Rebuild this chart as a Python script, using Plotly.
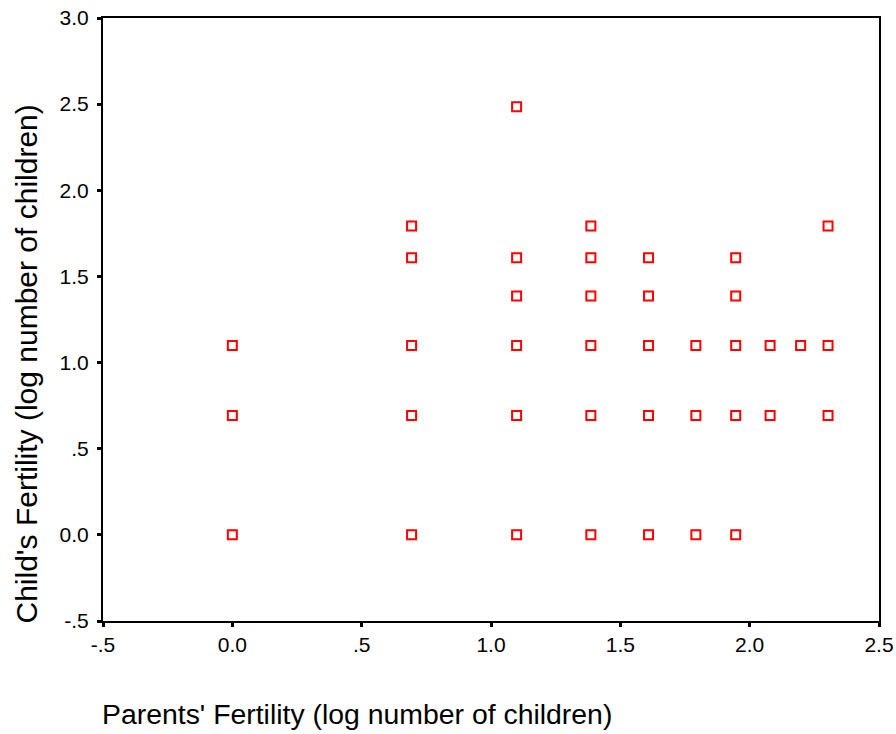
import plotly.graph_objects as go

# Parents' fertility (x, log number of children) and child's fertility (y)
parents_x = [0.0, 0.0, 0.0,
             0.693, 0.693, 0.693, 0.693, 0.693,
             1.099, 1.099, 1.099, 1.099, 1.099, 1.099,
             1.386, 1.386, 1.386, 1.386, 1.386, 1.386,
             1.609, 1.609, 1.609, 1.609, 1.609,
             1.792, 1.792, 1.792,
             1.946, 1.946, 1.946, 1.946, 1.946,
             2.079, 2.079,
             2.197,
             2.303, 2.303, 2.303]
child_y = [0.0, 0.693, 1.099,
           0.0, 0.693, 1.099, 1.609, 1.792,
           0.0, 0.693, 1.099, 1.386, 1.609, 2.485,
           0.0, 0.693, 1.099, 1.386, 1.609, 1.792,
           0.0, 0.693, 1.099, 1.386, 1.609,
           0.0, 0.693, 1.099,
           0.0, 0.693, 1.099, 1.386, 1.609,
           0.693, 1.099,
           1.099,
           0.693, 1.099, 1.792]

x_ticks = [-0.5, 0.0, 0.5, 1.0, 1.5, 2.0, 2.5]
x_ticktext = ["-.5", "0.0", ".5", "1.0", "1.5", "2.0", "2.5"]
y_ticks = [-0.5, 0.0, 0.5, 1.0, 1.5, 2.0, 2.5, 3.0]
y_ticktext = ["-.5", "0.0", ".5", "1.0", "1.5", "2.0", "2.5", "3.0"]

font_family = "Liberation Sans, Arial, sans-serif"

fig = go.Figure()
fig.add_trace(go.Scatter(
    x=parents_x, y=child_y, mode="markers",
    marker=dict(symbol="square-open", size=9, color="#ff0000",
                line=dict(width=2, color="#ff0000")),
    showlegend=False, cliponaxis=False,
))

axis_common = dict(
    showgrid=False, zeroline=False, showline=True, linecolor="black",
    linewidth=2, mirror=True, ticks="outside", ticklen=4, tickwidth=3,
    tickcolor="black", ticklabeloverflow="allow", automargin=False,
    tickfont=dict(family=font_family, size=21, color="black"),
)

fig.update_layout(
    width=896, height=734,
    margin=dict(l=103, r=17, t=18, b=113, autoexpand=False),
    paper_bgcolor="white", plot_bgcolor="white",
    font=dict(family=font_family, color="black"),
    xaxis=dict(range=[-0.5, 2.5], tickvals=x_ticks, ticktext=x_ticktext,
               **axis_common),
    yaxis=dict(range=[-0.5, 3.0], tickvals=y_ticks, ticktext=y_ticktext,
               ticklabelstandoff=4, **axis_common),
    annotations=[
        dict(text="Parents' Fertility (log number of children)",
             xref="paper", yref="paper", x=0, y=0, xanchor="left",
             yanchor="middle", xshift=-3, yshift=-93, showarrow=False,
             font=dict(family=font_family, size=28.4, color="black")),
        dict(text="Child's Fertility (log number of children)",
             xref="paper", yref="paper", x=0, y=0, xanchor="center",
             yanchor="bottom", xshift=-77, yshift=-5, textangle=-90,
             showarrow=False,
             font=dict(family=font_family, size=30, color="black")),
    ],
)

fig.write_html("out.html", config={"displayModeBar": False},
               post_script="document.body.style.margin='0';document.body.style.overflow='hidden';")
